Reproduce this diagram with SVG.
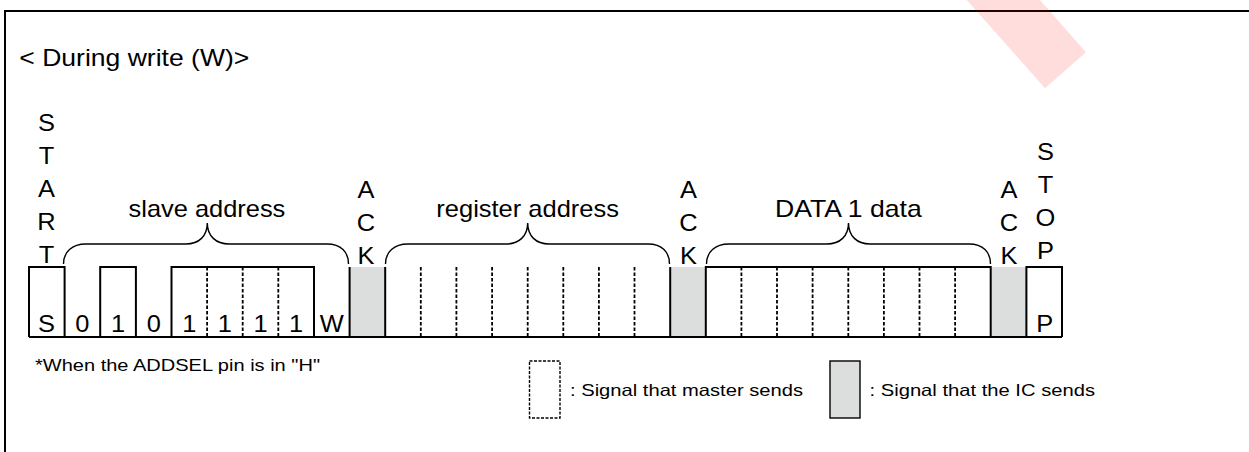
<svg xmlns="http://www.w3.org/2000/svg" width="1249" height="452" viewBox="0 0 1249 452">
<style>
text{font-family:"Liberation Sans",Arial,sans-serif;fill:#000}
.lbl{font-size:24px}
.v{font-size:24px;text-anchor:middle}
.sm{font-size:17px}
.lg{font-size:16.5px}
.wave{fill:none;stroke:#000;stroke-width:2;stroke-linejoin:miter}
.dash{stroke:#000;stroke-width:1.8;stroke-dasharray:3.5 2}
.ack{fill:#dcdddd;stroke:none}
.brace{fill:none;stroke:#000;stroke-width:1.4}
</style>
<rect width="1249" height="452" fill="#fff"/>
<g id="frame"><path d="M5,452 V11 H1249" fill="none" stroke="#000" stroke-width="2"/></g>
<g id="title"><text class="lbl" x="19.3" y="65.5" textLength="230" lengthAdjust="spacingAndGlyphs">&lt; During write (W)&gt;</text></g>

<g id="ack-fills">
<rect class="ack" x="349.6" y="267" width="35.6" height="70"/>
<rect class="ack" x="670.2" y="267" width="35.6" height="70"/>
<rect class="ack" x="990.7" y="267" width="35.7" height="70"/>
</g>

<g id="waveform">
<path class="wave" d="M29,337 V267 H64.6 V337 M29,337 H1062 M100.2,337 V267 H135.9 V337 M171.5,337 V267 H314 V337 M349.6,337 V267 M385.2,337 V267 M670.2,337 V267 M705.8,337 V267 H990.7 V337 M1026.4,337 V267 H1062 V337"/>
<path class="dash" d="M207.1,267V337M242.7,267V337M278.3,267V337M420.8,267V337M456.4,267V337M492.1,267V337M527.7,267V337M563.3,267V337M598.9,267V337M634.5,267V337M741.4,267V337M777,267V337M812.6,267V337M848.3,267V337M883.9,267V337M919.5,267V337M955.1,267V337"/>
</g>

<g id="bits">
<g transform="translate(46.5 0) scale(1.06 1)"><text class="v" x="0" y="332">S</text></g>
<g transform="translate(82.4 0) scale(1.06 1)"><text class="v" x="0" y="332">0</text></g>
<g transform="translate(118 0) scale(1.06 1)"><text class="v" x="0" y="332">1</text></g>
<g transform="translate(153.7 0) scale(1.06 1)"><text class="v" x="0" y="332">0</text></g>
<g transform="translate(189.3 0) scale(1.06 1)"><text class="v" x="0" y="332">1</text></g>
<g transform="translate(224.9 0) scale(1.06 1)"><text class="v" x="0" y="332">1</text></g>
<g transform="translate(260.5 0) scale(1.06 1)"><text class="v" x="0" y="332">1</text></g>
<g transform="translate(296.1 0) scale(1.06 1)"><text class="v" x="0" y="332">1</text></g>
<g transform="translate(331.8 0) scale(1.06 1)"><text class="v" x="0" y="332">W</text></g>
<g transform="translate(1044.7 0) scale(1.06 1)"><text class="v" x="0" y="332">P</text></g>
</g>

<g id="start" transform="translate(46.5 0) scale(1.06 1)">
<text class="v" x="0" y="131.5">S</text><text class="v" x="0" y="164.5">T</text><text class="v" x="0" y="197.5">A</text><text class="v" x="0" y="230.5">R</text><text class="v" x="0" y="263.5">T</text>
</g>
<g id="ack1" transform="translate(366 0) scale(1.06 1)">
<text class="v" x="0" y="198.5">A</text><text class="v" x="0" y="231.5">C</text><text class="v" x="0" y="264.5">K</text>
</g>
<g id="ack2" transform="translate(688.5 0) scale(1.06 1)">
<text class="v" x="0" y="198.5">A</text><text class="v" x="0" y="231.5">C</text><text class="v" x="0" y="264.5">K</text>
</g>
<g id="ack3" transform="translate(1009 0) scale(1.06 1)">
<text class="v" x="0" y="198.5">A</text><text class="v" x="0" y="231.5">C</text><text class="v" x="0" y="264.5">K</text>
</g>
<g id="stop" transform="translate(1045.5 0) scale(1.06 1)">
<text class="v" x="0" y="160">S</text><text class="v" x="0" y="193">T</text><text class="v" x="0" y="226.5">O</text><text class="v" x="0" y="259.5">P</text>
</g>

<g id="connectors">
<path class="brace" d="M63.5,264 C63.5,252 72,244 86,244 L186,244 C199,244 207.3,236 207.3,223 C207.3,236 216,244 229,244 L327,244 C341,244 348.5,252 348.5,264"/>
<path class="brace" d="M385.5,264 C385.5,252 394,244 408,244 L506,244 C519,244 527.7,236 527.7,223 C527.7,236 536,244 549,244 L648,244 C662,244 669.5,252 669.5,264"/>
<path class="brace" d="M706.5,264 C706.5,252 715,244 729,244 L827,244 C840,244 848.5,236 848.5,223 C848.5,236 857,244 870,244 L969,244 C983,244 990.5,252 990.5,264"/>
</g>

<g id="group-labels">
<text class="lbl" x="128.6" y="217" textLength="156.7" lengthAdjust="spacingAndGlyphs">slave address</text>
<text class="lbl" x="436.3" y="217" textLength="182.7" lengthAdjust="spacingAndGlyphs">register address</text>
<text class="lbl" x="775" y="217" textLength="146.7" lengthAdjust="spacingAndGlyphs">DATA 1 data</text>
</g>

<g id="note"><text class="sm" x="35" y="371" textLength="285" lengthAdjust="spacingAndGlyphs">*When the ADDSEL pin is in "H"</text></g>

<g id="legend-master">
<rect x="529.5" y="361" width="30.5" height="57" fill="#fff" stroke="#000" stroke-width="1.4" stroke-dasharray="3 1.5"/>
<text class="lg" x="570" y="395.5" textLength="233" lengthAdjust="spacingAndGlyphs">: Signal that master sends</text>
</g>
<g id="legend-ic">
<rect x="830" y="361" width="30" height="57" fill="#dcdddd" stroke="#000" stroke-width="1.4"/>
<text class="lg" x="869.5" y="395.5" textLength="225.5" lengthAdjust="spacingAndGlyphs">: Signal that the IC sends</text>
</g>

<polygon id="stripe" points="966.7,0 1040,0 1086,52.3 1045,88.3" fill="#ff0000" fill-opacity="0.135"/>
</svg>
